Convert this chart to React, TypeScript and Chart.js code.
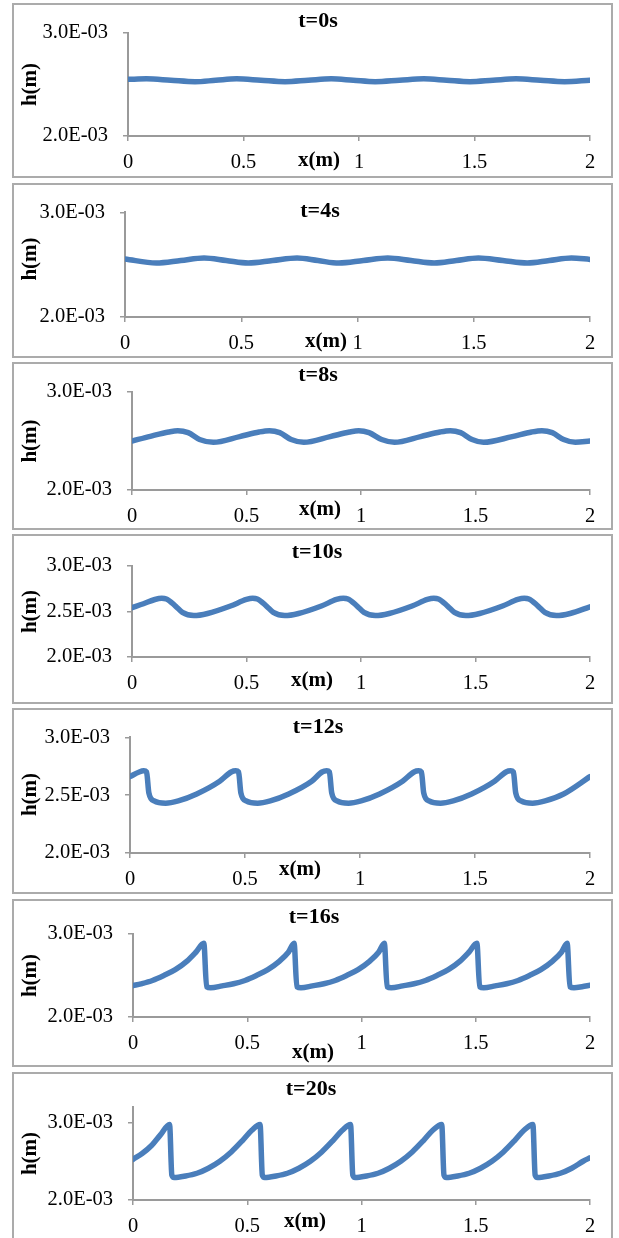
import React, { useEffect, useRef } from 'react';
import { Chart, registerables } from 'chart.js';

Chart.register(...registerables);

const FONT = '"Liberation Serif", "Times New Roman", serif';
Chart.defaults.font.family = FONT;

// ---------- tick values / labels ----------
const xTicks = [0, 0.5, 1, 1.5, 2];
const yTicksMain = [2.0e-3, 3.0e-3];
const yTicksHalf = [2.0e-3, 2.5e-3, 3.0e-3];

const titles = ['t=0s', 't=4s', 't=8s', 't=10s', 't=12s', 't=16s', 't=20s'];
const xLabel = 'x(m)';
const yLabel = 'h(m)';

// ---------- series (x in m, h in m) ----------
// t = 0 s
const x0 = [0, 0.08, 0.185, 0.29, 0.38, 0.47, 0.575, 0.68, 0.78, 0.88, 0.975, 1.07, 1.175, 1.28, 1.38, 1.48, 1.58, 1.68, 1.785, 1.89, 2.0];
const h0 = [2.550e-3, 2.555e-3, 2.541e-3, 2.527e-3, 2.541e-3, 2.555e-3, 2.541e-3, 2.527e-3, 2.541e-3, 2.555e-3, 2.541e-3, 2.527e-3, 2.541e-3, 2.555e-3, 2.541e-3, 2.527e-3, 2.541e-3, 2.555e-3, 2.541e-3, 2.527e-3, 2.542e-3];

// t = 4 s
const x4 = [0, 0.135, 0.24, 0.34, 0.435, 0.53, 0.635, 0.74, 0.83, 0.92, 1.025, 1.13, 1.23, 1.33, 1.425, 1.52, 1.625, 1.73, 1.825, 1.92, 2.0];
const h4 = [2.554e-3, 2.515e-3, 2.539e-3, 2.563e-3, 2.539e-3, 2.515e-3, 2.539e-3, 2.563e-3, 2.539e-3, 2.515e-3, 2.539e-3, 2.563e-3, 2.539e-3, 2.515e-3, 2.539e-3, 2.563e-3, 2.539e-3, 2.515e-3, 2.539e-3, 2.563e-3, 2.550e-3];

// t = 8 s
const x8 = [0, 0.08, 0.16, 0.2, 0.245, 0.295, 0.355, 0.47, 0.555, 0.6, 0.645, 0.695, 0.75, 0.865, 0.95, 0.99, 1.035, 1.09, 1.146, 1.26, 1.345, 1.39, 1.435, 1.485, 1.535, 1.66, 1.745, 1.79, 1.835, 1.885, 1.936, 2.0];
const h8 = [2.500e-3, 2.548e-3, 2.592e-3, 2.605e-3, 2.585e-3, 2.515e-3, 2.487e-3, 2.545e-3, 2.592e-3, 2.605e-3, 2.585e-3, 2.515e-3, 2.487e-3, 2.545e-3, 2.592e-3, 2.605e-3, 2.585e-3, 2.515e-3, 2.487e-3, 2.545e-3, 2.592e-3, 2.605e-3, 2.585e-3, 2.515e-3, 2.487e-3, 2.545e-3, 2.592e-3, 2.605e-3, 2.585e-3, 2.515e-3, 2.487e-3, 2.500e-3];

// t = 10 s
const x10 = [0, 0.05, 0.1, 0.13, 0.15, 0.19, 0.22, 0.27, 0.33, 0.43, 0.50, 0.527, 0.547, 0.587, 0.617, 0.667, 0.727, 0.827, 0.893, 0.923, 0.943, 0.983, 1.013, 1.063, 1.123, 1.223, 1.29, 1.318, 1.338, 1.378, 1.408, 1.458, 1.518, 1.618, 1.685, 1.713, 1.733, 1.773, 1.803, 1.853, 1.913, 2.0];
const h10 = [2.542e-3, 2.585e-3, 2.632e-3, 2.645e-3, 2.638e-3, 2.560e-3, 2.490e-3, 2.455e-3, 2.478e-3, 2.560e-3, 2.632e-3, 2.645e-3, 2.638e-3, 2.560e-3, 2.490e-3, 2.455e-3, 2.478e-3, 2.560e-3, 2.632e-3, 2.645e-3, 2.638e-3, 2.560e-3, 2.490e-3, 2.455e-3, 2.478e-3, 2.560e-3, 2.632e-3, 2.645e-3, 2.638e-3, 2.560e-3, 2.490e-3, 2.455e-3, 2.478e-3, 2.560e-3, 2.632e-3, 2.645e-3, 2.638e-3, 2.560e-3, 2.490e-3, 2.455e-3, 2.478e-3, 2.552e-3];

// t = 12 s
const x12 = [0, 0.04, 0.06, 0.072, 0.082, 0.105, 0.155, 0.21, 0.29, 0.39, 0.44, 0.46, 0.472, 0.482, 0.505, 0.555, 0.61, 0.69, 0.79, 0.835, 0.855, 0.867, 0.877, 0.9, 0.95, 1.005, 1.085, 1.185, 1.235, 1.255, 1.267, 1.277, 1.3, 1.35, 1.405, 1.485, 1.585, 1.635, 1.655, 1.667, 1.677, 1.7, 1.75, 1.805, 1.885, 2.0];
const h12 = [2.66e-3, 2.70e-3, 2.71e-3, 2.70e-3, 2.52e-3, 2.45e-3, 2.43e-3, 2.45e-3, 2.51e-3, 2.62e-3, 2.70e-3, 2.71e-3, 2.70e-3, 2.52e-3, 2.45e-3, 2.43e-3, 2.45e-3, 2.51e-3, 2.62e-3, 2.70e-3, 2.71e-3, 2.70e-3, 2.52e-3, 2.45e-3, 2.43e-3, 2.45e-3, 2.51e-3, 2.62e-3, 2.70e-3, 2.71e-3, 2.70e-3, 2.52e-3, 2.45e-3, 2.43e-3, 2.45e-3, 2.51e-3, 2.62e-3, 2.70e-3, 2.71e-3, 2.70e-3, 2.52e-3, 2.45e-3, 2.43e-3, 2.45e-3, 2.51e-3, 2.66e-3];

// t = 16 s
const x16 = [0, 0.035, 0.085, 0.135, 0.185, 0.235, 0.275, 0.31, 0.322, 0.34,
  0.39, 0.44, 0.49, 0.54, 0.59, 0.64, 0.68, 0.705, 0.717, 0.735,
  0.785, 0.835, 0.885, 0.935, 0.985, 1.035, 1.075, 1.10, 1.112, 1.13,
  1.18, 1.23, 1.28, 1.33, 1.38, 1.43, 1.47, 1.505, 1.517, 1.535,
  1.585, 1.635, 1.685, 1.735, 1.785, 1.835, 1.875, 1.90, 1.912, 1.93,
  1.965, 2.0];
const h16 = [2.378e-3, 2.40e-3, 2.44e-3, 2.50e-3, 2.57e-3, 2.67e-3, 2.78e-3, 2.888e-3, 2.365e-3, 2.353e-3,
  2.375e-3, 2.40e-3, 2.44e-3, 2.50e-3, 2.57e-3, 2.67e-3, 2.78e-3, 2.888e-3, 2.365e-3, 2.353e-3,
  2.375e-3, 2.40e-3, 2.44e-3, 2.50e-3, 2.57e-3, 2.67e-3, 2.78e-3, 2.888e-3, 2.365e-3, 2.353e-3,
  2.375e-3, 2.40e-3, 2.44e-3, 2.50e-3, 2.57e-3, 2.67e-3, 2.78e-3, 2.888e-3, 2.365e-3, 2.353e-3,
  2.375e-3, 2.40e-3, 2.44e-3, 2.50e-3, 2.57e-3, 2.67e-3, 2.78e-3, 2.888e-3, 2.365e-3, 2.353e-3,
  2.365e-3, 2.383e-3];

// t = 20 s
const x20 = [0, 0.04, 0.08, 0.12, 0.16, 0.17, 0.18,
  0.23, 0.28, 0.33, 0.38, 0.43, 0.48, 0.52, 0.556, 0.566, 0.576,
  0.626, 0.676, 0.726, 0.776, 0.826, 0.876, 0.916, 0.952, 0.962, 0.972,
  1.022, 1.072, 1.122, 1.172, 1.222, 1.272, 1.312, 1.351, 1.361, 1.371,
  1.421, 1.471, 1.521, 1.571, 1.621, 1.671, 1.711, 1.75, 1.76, 1.77,
  1.82, 1.87, 1.92, 1.97, 2.0];
const h20 = [2.525e-3, 2.60e-3, 2.70e-3, 2.84e-3, 2.975e-3, 2.32e-3, 2.29e-3,
  2.31e-3, 2.345e-3, 2.41e-3, 2.50e-3, 2.62e-3, 2.77e-3, 2.90e-3, 2.975e-3, 2.32e-3, 2.29e-3,
  2.31e-3, 2.345e-3, 2.41e-3, 2.50e-3, 2.62e-3, 2.77e-3, 2.90e-3, 2.975e-3, 2.32e-3, 2.29e-3,
  2.31e-3, 2.345e-3, 2.41e-3, 2.50e-3, 2.62e-3, 2.77e-3, 2.90e-3, 2.975e-3, 2.32e-3, 2.29e-3,
  2.31e-3, 2.345e-3, 2.41e-3, 2.50e-3, 2.62e-3, 2.77e-3, 2.90e-3, 2.975e-3, 2.32e-3, 2.29e-3,
  2.31e-3, 2.345e-3, 2.41e-3, 2.50e-3, 2.545e-3];

const yMaxes = [3.0e-3, 3.0e-3, 3.0e-3, 3.0e-3, 3.0e-3, 3.0e-3, 3.2e-3];

// ---------- layout (page pixel positions) ----------
const panels = [
  { title: titles[0], xs: x0, hs: h0, yTicks: yTicksMain, yMax: yMaxes[0], top: 3, bottom: 177, axisX: 128, plotTop: 33, plotBottom: 136, tx: 318, ty: 21, lx: 319, ly: 161 },
  { title: titles[1], xs: x4, hs: h4, yTicks: yTicksMain, yMax: yMaxes[1], top: 183, bottom: 357, axisX: 125, plotTop: 201, plotBottom: 317, tx: 320, ty: 211, lx: 326, ly: 342 },
  { title: titles[2], xs: x8, hs: h8, yTicks: yTicksMain, yMax: yMaxes[2], top: 362, bottom: 529, axisX: 132, plotTop: 392, plotBottom: 490, tx: 318, ty: 375, lx: 320, ly: 510 },
  { title: titles[3], xs: x10, hs: h10, yTicks: yTicksHalf, yMax: yMaxes[3], top: 534, bottom: 703, axisX: 132, plotTop: 566, plotBottom: 657, tx: 317, ty: 552, lx: 312, ly: 681 },
  { title: titles[4], xs: x12, hs: h12, yTicks: yTicksHalf, yMax: yMaxes[4], top: 708, bottom: 893, axisX: 130, plotTop: 736, plotBottom: 853, tx: 318, ty: 727, lx: 300, ly: 870 },
  { title: titles[5], xs: x16, hs: h16, yTicks: yTicksMain, yMax: yMaxes[5], top: 899, bottom: 1066, axisX: 133, plotTop: 934, plotBottom: 1017, tx: 314, ty: 917, lx: 313, ly: 1053 },
  { title: titles[6], xs: x20, hs: h20, yTicks: yTicksMain, yMax: yMaxes[6], top: 1072, bottom: 1238, axisX: 133, plotTop: 1107, plotBottom: 1200, tx: 311, ty: 1089, lx: 305, ly: 1222, noBottom: true },
];

function fmtSci(v: number): string {
  const e = Math.floor(Math.log10(Math.abs(v)) + 1e-9);
  const m = v / Math.pow(10, e);
  return m.toFixed(1) + 'E' + (e < 0 ? '-' : '+') + String(Math.abs(e)).padStart(2, '0');
}

const panelText = {
  id: 'panelText',
  afterDraw(chart: any, _args: any, o: any) {
    const ctx = chart.ctx;
    ctx.save();
    ctx.fillStyle = '#000';
    ctx.textAlign = 'center';
    ctx.textBaseline = 'middle';
    ctx.font = `bold 22px ${FONT}`;
    ctx.fillText(o.title, o.tx, o.ty);
    ctx.font = `bold 21px ${FONT}`;
    ctx.fillText(xLabel, o.lx, o.ly);
    ctx.translate(o.hx, o.hy);
    ctx.rotate(-Math.PI / 2);
    ctx.fillText(yLabel, 0, 0);
    ctx.restore();
  },
};

const B = 2;
const AXIS_COLOR = '#9a9a9a';

function Panel({ cfg }: { cfg: any }) {
  const ref = useRef<HTMLCanvasElement>(null);
  const outerH = cfg.bottom + 1 - cfg.top;
  const innerW = 601 - 2 * B;
  const innerH = outerH - B - (cfg.noBottom ? 0 : B);

  useEffect(() => {
    const ox = 12 + B;
    const oy = cfg.top + B;
    const cl = cfg.axisX - ox;
    const cr = 590 - ox;
    const ct = cfg.plotTop - oy;
    const cb = cfg.plotBottom - oy;
    const points = cfg.xs.map((x: number, i: number) => ({ x, y: cfg.hs[i] }));
    const chart = new Chart(ref.current as HTMLCanvasElement, {
      type: 'line',
      data: {
        datasets: [
          {
            data: points,
            borderColor: '#4a7ebb',
            borderWidth: 5.5,
            pointRadius: 0,
            fill: false,
            cubicInterpolationMode: 'monotone',
            borderJoinStyle: 'round',
            borderCapStyle: 'round',
          },
        ],
      },
      options: {
        responsive: false,
        animation: false,
        devicePixelRatio: 1,
        events: [],
        layout: { padding: { left: 0, top: ct, right: innerW - cr, bottom: 0 } },
        plugins: {
          legend: { display: false },
          title: { display: false },
          tooltip: { enabled: false },
          panelText: {
            title: cfg.title,
            tx: cfg.tx - ox,
            ty: cfg.ty - oy,
            lx: cfg.lx - ox,
            ly: cfg.ly - oy,
            hx: 31 - ox,
            hy: (cfg.plotTop + cfg.plotBottom) / 2 - oy,
          },
        } as any,
        scales: {
          x: {
            type: 'linear',
            min: 0,
            max: 2,
            afterBuildTicks: (s: any) => {
              s.ticks = xTicks.map((v) => ({ value: v }));
            },
            afterFit: (s: any) => {
              s.height = innerH - cb;
            },
            ticks: {
              autoSkip: false,
              maxRotation: 0,
              padding: 9,
              color: '#000',
              font: { size: 20.5, family: FONT },
              callback: (v: any) => String(v),
            },
            grid: { drawOnChartArea: false, drawTicks: true, tickLength: 5, color: AXIS_COLOR, lineWidth: 1.5 },
            border: { display: true, color: AXIS_COLOR, width: 2 },
          },
          y: {
            type: 'linear',
            min: 2.0e-3,
            max: cfg.yMax,
            afterBuildTicks: (s: any) => {
              s.ticks = cfg.yTicks.map((v: number) => ({ value: v }));
            },
            afterFit: (s: any) => {
              s.width = cl;
            },
            ticks: {
              padding: 15,
              color: '#000',
              font: { size: 20.5, family: FONT },
              callback: (v: any) => fmtSci(Number(v)),
            },
            grid: { drawOnChartArea: false, drawTicks: true, tickLength: 5, color: AXIS_COLOR, lineWidth: 1.5 },
            border: { display: true, color: AXIS_COLOR, width: 2 },
          },
        },
      },
      plugins: [panelText],
    } as any);
    return () => chart.destroy();
  }, []);

  const borderStyle = `${B}px solid #ababab`;
  return (
    <div
      style={{
        position: 'absolute',
        left: 12,
        top: cfg.top,
        width: 601,
        height: outerH,
        boxSizing: 'border-box',
        borderTop: borderStyle,
        borderLeft: borderStyle,
        borderRight: borderStyle,
        borderBottom: cfg.noBottom ? 'none' : borderStyle,
        background: '#fff',
      }}
    >
      <canvas ref={ref} width={innerW} height={innerH} style={{ display: 'block', width: innerW, height: innerH }} />
    </div>
  );
}

export default function App() {
  return (
    <div style={{ position: 'absolute', left: 0, top: 0, width: 619, height: 1238, background: '#fff', overflow: 'hidden' }}>
      {panels.map((p, i) => (
        <Panel key={i} cfg={p} />
      ))}
    </div>
  );
}
